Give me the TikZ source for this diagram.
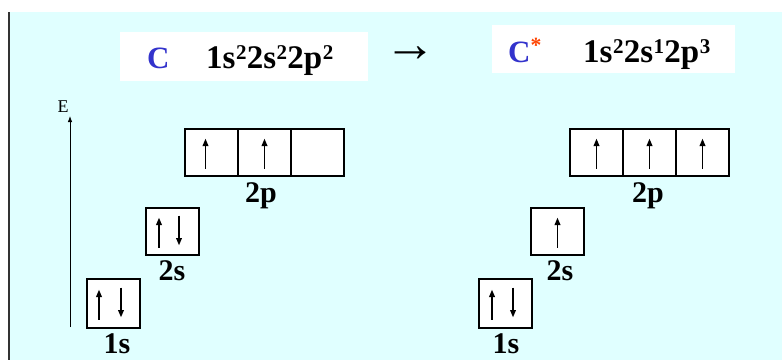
\documentclass[tikz,border=0pt]{standalone}
\usepackage{fontspec}
\setmainfont{Liberation Serif}
\usetikzlibrary{arrows.meta,calc}
\definecolor{panel}{HTML}{E0FFFF}
\definecolor{cblue}{HTML}{3333CC}
\definecolor{starred}{HTML}{FF4400}
\newcommand\upspin[2]{\draw[spin] ($(#1)+(#2,16)$) -- ($(#1)+(#2,-14)$);}
\newcommand\downspin[2]{\draw[spin] ($(#1)+(#2,-16)$) -- ($(#1)+(#2,14)$);}
\newcommand\sups[1]{\kern0.5pt\raisebox{9pt}{\fontsize{21}{21}\selectfont #1}\kern0.3pt}
\begin{document}
\begin{tikzpicture}[x=1pt,y=-1pt,
 cell/.style={draw=black,line width=1.6pt,fill=white,minimum width=53pt,minimum height=47pt,inner sep=0pt,outer sep=0pt},
 spin/.style={line width=1.9pt,-{Triangle[length=7.5pt,width=5.5pt]}},
 lab/.style={font=\fontsize{30}{32}\selectfont\bfseries,anchor=base,inner sep=0pt},
 form/.style={font=\fontsize{33}{36}\selectfont\bfseries,anchor=base west,inner sep=0pt},
 elem/.style={font=\fontsize{31}{34}\selectfont\bfseries,anchor=base west,inner sep=0pt},
 hbox/.style={fill=white,draw=none,inner sep=0pt}]
\useasboundingbox (0,0) rectangle (782,360);
\fill[panel] (8,12) rectangle (782,360);
\draw[line width=2pt,draw=black!80] (9,12) -- (9,360);
% header boxes
\node[hbox,minimum width=248pt,minimum height=49pt] (bl) at (244,56.5) {};
\node[hbox,minimum width=243pt,minimum height=48pt] (br) at (613.5,49) {};
\node[elem] (cl) at (147,68) {\color{cblue}C};
\node[form] (fl) at (206,68) {1s\sups{2}2s\sups{2}2p\sups{2}};
\node[inner sep=0pt,font=\fontsize{52}{54}\selectfont] (tr) at (410.5,54) {→};
\node[elem] (cr) at (508,62) {\color{cblue}C\color{starred}\textsuperscript{*}};
\node[form] (fr) at (583,62) {1s\sups{2}2s\sups{1}2p\sups{3}};
% energy axis
\coordinate (ax0) at (70,327);
\coordinate (ax1) at (70,116);
\draw[line width=0.8pt,-{Latex[length=6pt,width=4.5pt]}] (ax0) -- (ax1);
\node[inner sep=0pt,font=\fontsize{18}{19}\selectfont] (E) at (63,107) {E};
% left configuration
\node[cell] (lp1) at (211.5,152.5) {};
\node[cell] (lp2) at (264.5,152.5) {};
\node[cell] (lp3) at (317.5,152.5) {};
\node[cell] (ls2) at (172.5,231.5) {};
\node[cell,minimum height=49pt] (ls1) at (113.5,303.5) {};
\upspin{lp1}{-6}
\upspin{lp2}{0}
\upspin{ls2}{-13.5}
\downspin{ls2}{6.5}
\upspin{ls1}{-14.5}
\downspin{ls1}{7.5}
\node[lab] (l2p) at (261,202) {2p};
\node[lab] (l2s) at (172,280) {2s};
\node[lab] (l1s) at (117,353) {1s};
% right configuration
\node[cell] (rp1) at (596.5,152.5) {};
\node[cell] (rp2) at (649.5,152.5) {};
\node[cell] (rp3) at (702.5,152.5) {};
\node[cell] (rs2) at (557.5,231.5) {};
\node[cell,minimum height=49pt] (rs1) at (505.5,303.5) {};
\upspin{rp1}{0}
\upspin{rp2}{0}
\upspin{rp3}{0}
\upspin{rs2}{0}
\upspin{rs1}{-13.5}
\downspin{rs1}{7.5}
\node[lab] (r2p) at (648,202) {2p};
\node[lab] (r2s) at (560,280) {2s};
\node[lab] (r1s) at (506,353) {1s};
\end{tikzpicture}
\end{document}
